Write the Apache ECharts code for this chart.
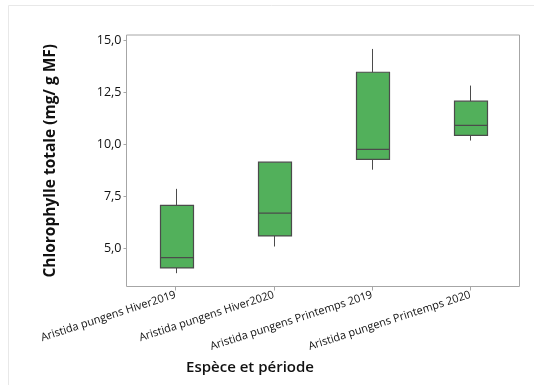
<!DOCTYPE html>
<html>
<head>
<meta charset="utf-8">
<script src="https://cdn.jsdelivr.net/npm/echarts@6/dist/echarts.min.js"></script>
<style>
  html, body { margin: 0; padding: 0; background: #fff; }
  #chart { width: 534px; height: 385px; }
</style>
</head>
<body>
<div id="chart"></div>
<script>
// Groups (species + season/year)
const categories = [
  'Aristida pungens Hiver2019',
  'Aristida pungens Hiver2020',
  'Aristida pungens Printemps 2019',
  'Aristida pungens Printemps 2020'
];
// Five-number summaries per group (mg/g MF)
const whiskerLow  = [3.80, 5.08, 8.77, 10.17];
const quartile1   = [4.05, 5.59, 9.27, 10.42];
const medians     = [4.55, 6.68, 9.75, 10.90];
const quartile3   = [7.06, 9.13, 13.45, 12.06];
const whiskerHigh = [7.85, 9.13, 14.57, 12.81];
// Y tick values
const yTicks = [5, 7.5, 10, 12.5, 15];

const boxData = categories.map((c, i) =>
  [i, whiskerLow[i], quartile1[i], medians[i], quartile3[i], whiskerHigh[i]]);

const FONT = '"Open Sans", "Noto Sans", sans-serif';
const FILL = '#52b05b';
const EDGE = '#4b4b4b';

function renderBox(params, api) {
  const i = api.value(0);
  const lo = api.coord([i, api.value(1)]);
  const q1 = api.coord([i, api.value(2)]);
  const md = api.coord([i, api.value(3)]);
  const q3 = api.coord([i, api.value(4)]);
  const hi = api.coord([i, api.value(5)]);
  const band = api.size([1, 0])[0];
  const w = band * 0.333;
  const x = Math.round(lo[0]) + 0.5;
  const left = Math.round(x - w / 2) + 0.5;
  const lineStyle = { stroke: EDGE, lineWidth: 1 };
  return {
    type: 'group',
    children: [
      { type: 'line', shape: { x1: x, y1: hi[1], x2: x, y2: q3[1] }, style: lineStyle },
      { type: 'line', shape: { x1: x, y1: q1[1], x2: x, y2: lo[1] }, style: lineStyle },
      { type: 'rect', shape: { x: left, y: q3[1], width: Math.round(w), height: q1[1] - q3[1] },
        style: { fill: FILL, stroke: EDGE, lineWidth: 1.2 } },
      { type: 'line', shape: { x1: left, y1: md[1], x2: left + Math.round(w), y2: md[1] },
        style: { stroke: EDGE, lineWidth: 1.2 } }
    ]
  };
}

const chart = echarts.init(document.getElementById('chart'), null, { renderer: 'canvas' });
chart.setOption({
  backgroundColor: '#fff',
  animation: false,
  graphic: [
    { type: 'rect', shape: { x: 8.5, y: 5.5, width: 700, height: 600 },
      style: { fill: 'none', stroke: '#e8e8e8', lineWidth: 1 }, z: -10 },
    { type: 'text', x: 250, y: 368,
      style: { text: 'Espèce et période', font: '600 15px ' + FONT, fill: '#111',
               align: 'center', verticalAlign: 'middle' } }
  ],
  grid: {
    left: 126.5, right: 14.5, top: 35, bottom: 98.5,
    show: true, borderColor: '#a6a6a6', borderWidth: 1, backgroundColor: '#fff'
  },
  xAxis: {
    type: 'category',
    data: categories,
    boundaryGap: true,
    axisLine: { show: false },
    axisTick: { show: true, alignWithLabel: true, length: 4, lineStyle: { color: '#a6a6a6' } },
    axisLabel: { rotate: 18, fontFamily: FONT, fontSize: 11, color: '#111',
                 margin: 8, interval: 0 },
    splitLine: { show: false }
  },
  yAxis: {
    type: 'value',
    min: 3.16, max: 15.24,
    name: 'Chlorophylle totale (mg/ g MF)',
    nameLocation: 'middle',
    nameGap: 68,
    nameTextStyle: { fontFamily: FONT, fontSize: 15.5, fontWeight: 'bold', color: '#111' },
    axisLine: { show: false },
    axisTick: { show: true, length: 3, customValues: yTicks, lineStyle: { color: '#a6a6a6' } },
    axisLabel: {
      customValues: yTicks, fontFamily: FONT, fontSize: 12.5, color: '#111', margin: 5,
      formatter: v => v.toFixed(1).replace('.', ',')
    },
    splitLine: { show: false }
  },
  series: [{
    type: 'custom',
    renderItem: renderBox,
    encode: { x: 0, y: [1, 2, 3, 4, 5] },
    data: boxData
  }]
});
</script>
</body>
</html>
